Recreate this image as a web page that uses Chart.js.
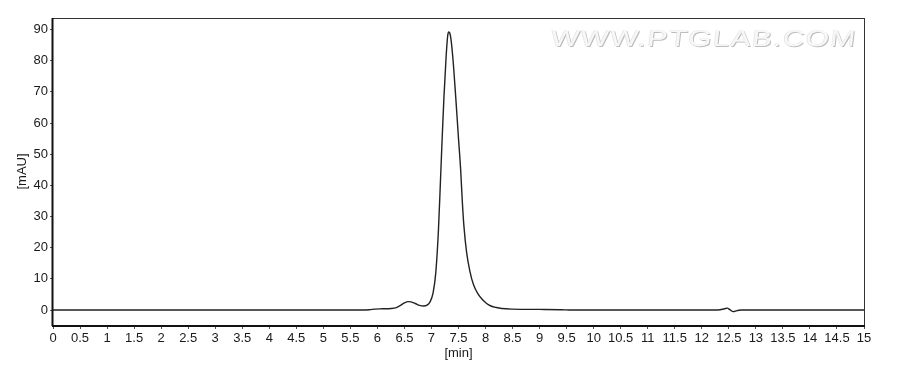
<!DOCTYPE html>
<html>
<head>
<meta charset="utf-8">
<script src="https://cdn.jsdelivr.net/npm/chart.js@4.4.1/dist/chart.umd.min.js"></script>
<style>
  html, body { margin: 0; padding: 0; background: #fff; }
  #wrap { width: 900px; height: 370px; }
</style>
</head>
<body>
<div id="wrap"><canvas id="chrom"></canvas></div>
<script>
// ─── Chromatogram data (retention time [min] vs absorbance [mAU]) ───
const times = [
  0, 5.5, 5.85, 5.95, 6.1, 6.25, 6.35, 6.42, 6.5, 6.57, 6.62, 6.7, 6.78,
  6.85, 6.92, 6.97, 7.03, 7.08, 7.13, 7.17, 7.2, 7.23, 7.27, 7.3, 7.32,
  7.34, 7.36, 7.4, 7.45, 7.5, 7.54, 7.57, 7.6, 7.65, 7.71, 7.78, 7.86,
  7.95, 8.02, 8.1, 8.2, 8.3, 8.5, 9.0, 9.4, 9.6, 12.3, 12.42, 12.47,
  12.52, 12.58, 12.65, 12.72, 15
];
const signal = [
  0, 0, 0.1, 0.3, 0.4, 0.5, 0.8, 1.4, 2.3, 2.7, 2.6, 2.1, 1.5,
  1.3, 1.6, 2.5, 5.5, 12, 26, 43, 56, 68, 81, 88, 89.2,
  88.8, 87, 80, 68, 55, 45, 35, 27, 18.5, 12.5, 8, 5.2,
  3.2, 2.1, 1.3, 0.8, 0.5, 0.3, 0.2, 0.1, 0, 0, 0.4, 0.6,
  0.1, -0.5, -0.2, 0, 0
];

// ─── Axis ticks ─────────────────────────────────────────────────────
const xTicks = [0, 0.5, 1, 1.5, 2, 2.5, 3, 3.5, 4, 4.5, 5, 5.5, 6, 6.5, 7, 7.5,
                8, 8.5, 9, 9.5, 10, 10.5, 11, 11.5, 12, 12.5, 13, 13.5, 14, 14.5, 15];
const yTicks = [0, 10, 20, 30, 40, 50, 60, 70, 80, 90];
const watermark = "WWW.PTGLAB.COM";

const FONT = "'Liberation Sans', Arial, sans-serif";
const INK = "#1a1a1a";

// frame around the plot + embossed watermark
const framePlugin = {
  id: "frame",
  beforeDatasetsDraw(chart) {
    const { ctx } = chart;
    ctx.save();
    ctx.translate(551, 40);
    ctx.transform(1.3, 0, -0.12, 1, 0, 0); // wide, slightly slanted
    ctx.font = `23px ${FONT}`;
    ctx.letterSpacing = "1px";
    ctx.textBaseline = "middle";
    ctx.textAlign = "left";
    ctx.fillStyle = "#bdbdbd";
    ctx.fillText(watermark, 0.8, 1);
    ctx.fillStyle = "#e2e2e2";
    ctx.fillText(watermark, -0.6, -0.6);
    ctx.fillStyle = "#f7f7f7";
    ctx.fillText(watermark, 0, 0);
    ctx.restore();
  },
  afterDraw(chart) {
    const { ctx, chartArea: a } = chart;
    ctx.save();
    ctx.strokeStyle = "#333";
    ctx.lineWidth = 1;
    ctx.strokeRect(a.left - 0.5, a.top + 0.5, a.right - a.left + 1, a.bottom - a.top);
    ctx.strokeStyle = "#111";
    ctx.lineWidth = 2;
    ctx.beginPath();
    ctx.moveTo(a.left - 1, a.bottom + 1);
    ctx.lineTo(a.right + 1, a.bottom + 1);
    ctx.moveTo(a.left - 0.5, a.top);
    ctx.lineTo(a.left - 0.5, a.bottom + 1);
    ctx.stroke();
    ctx.restore();
  },
};

new Chart(document.getElementById("chrom").getContext("2d"), {
  type: "line",
  data: {
    datasets: [{
      data: times.map((t, i) => ({ x: t, y: signal[i] })),
      borderColor: "#222",
      borderWidth: 1.4,
      pointRadius: 0,
      fill: false,
      cubicInterpolationMode: "monotone",
    }],
  },
  options: {
    responsive: true,
    maintainAspectRatio: false,
    animation: false,
    layout: { padding: { left: 0, right: 36, top: 18, bottom: 0 } },
    plugins: { legend: { display: false }, tooltip: { enabled: false } },
    scales: {
      x: {
        type: "linear",
        min: 0,
        max: 15,
        afterBuildTicks: (s) => { s.ticks = xTicks.map((v) => ({ value: v })); },
        afterFit: (s) => { s.height = 45; },
        grid: { drawOnChartArea: false, drawTicks: true, tickLength: 4, color: "#555" },
        border: { display: false },
        ticks: {
          autoSkip: false,
          maxRotation: 0,
          padding: 2,
          color: INK,
          font: { family: FONT, size: 13 },
          callback: (v) => String(v),
        },
        title: {
          display: true,
          text: "[min]",
          color: INK,
          font: { family: FONT, size: 13 },
          padding: { top: 0, bottom: 9 },
        },
      },
      y: {
        min: -4.8,
        max: 93.7,
        afterBuildTicks: (s) => { s.ticks = yTicks.map((v) => ({ value: v })); },
        afterFit: (s) => { s.width = 53; },
        grid: { drawOnChartArea: false, drawTicks: true, tickLength: 3, color: "#555" },
        border: { display: false },
        ticks: {
          padding: 2,
          color: INK,
          font: { family: FONT, size: 13 },
        },
        title: {
          display: true,
          text: "[mAU]",
          color: INK,
          font: { family: FONT, size: 13 },
          padding: { top: 15, bottom: 0 },
        },
      },
    },
  },
  plugins: [framePlugin],
});
</script>
</body>
</html>
